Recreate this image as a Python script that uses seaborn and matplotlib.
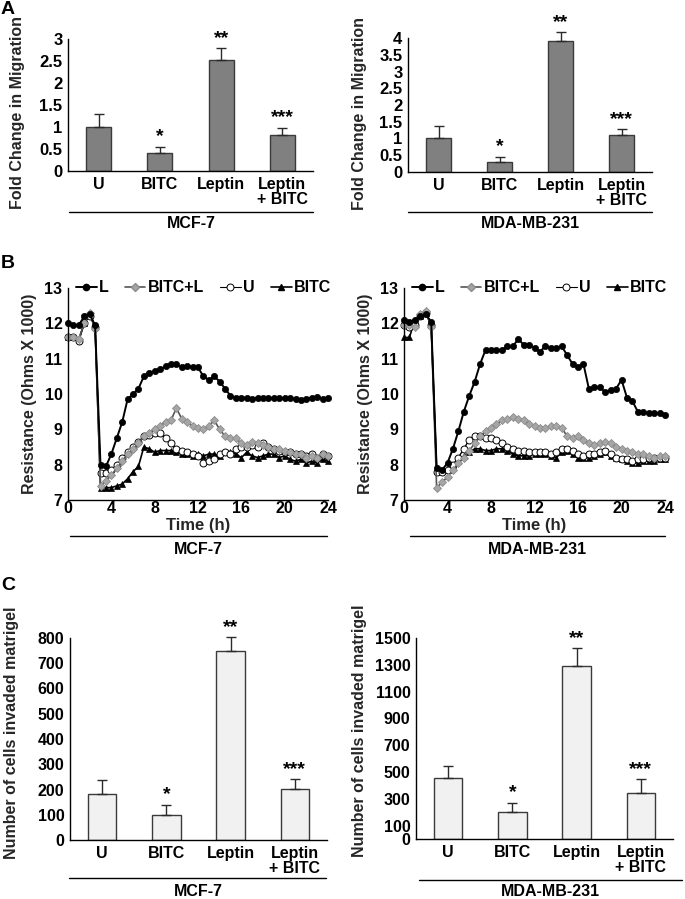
import numpy as np
import pandas as pd
import matplotlib
matplotlib.use('Agg')
import matplotlib.pyplot as plt
import seaborn as sns
from matplotlib.lines import Line2D

# ---------------- data ----------------
bar_cats = ["U", "BITC", "Leptin", "Leptin\n+ BITC"]

migr_mcf = [1.0, 0.42, 2.52, 0.81]
migr_mcf_err = [0.29, 0.13, 0.27, 0.17]
migr_mda = [1.02, 0.30, 3.91, 1.11]
migr_mda_err = [0.35, 0.16, 0.27, 0.16]
migr_mcf_stars = ["", "*", "**", "***"]
migr_mda_stars = ["", "*", "**", "***"]

inv_mcf = [182, 100, 750, 202]
inv_mcf_err = [55, 40, 54, 38]
inv_mda = [452, 200, 1290, 345]
inv_mda_err = [92, 72, 135, 100]

ticks_migr_mcf = [0, 0.5, 1, 1.5, 2, 2.5, 3]
ticklabels_migr_mcf = ["0", "0.5", "1", "1.5", "2", "2.5", "3"]
ticks_migr_mda = [0, 0.5, 1, 1.5, 2, 2.5, 3, 3.5, 4]
ticklabels_migr_mda = ["0", "0.5", "1", "1.5", "2", "2.5", "3", "3.5", "4"]
ticks_inv_mcf = [0, 100, 200, 300, 400, 500, 600, 700, 800]
ticks_inv_mda = [0, 100, 300, 500, 700, 900, 1100, 1300, 1500]

time_h = [0, 0.5, 1, 1.5, 2, 2.5, 3, 3.5, 4, 4.5, 5, 5.5, 6, 6.5, 7, 7.5, 8, 8.5,
          9, 9.5, 10, 10.5, 11, 11.5, 12, 12.5, 13, 13.5, 14, 14.5, 15, 15.5, 16,
          16.5, 17, 17.5, 18, 18.5, 19, 19.5, 20, 20.5, 21, 21.5, 22, 22.5, 23,
          23.5, 24]

L_mcf = [12.0, 11.95, 11.95, 12.2, 12.25, 11.95,
         8.0, 7.95, 8.3, 8.75, 9.2, 9.85, 10.0, 10.15,
         10.5, 10.6, 10.65, 10.7, 10.78, 10.85, 10.85, 10.75, 10.8, 10.75, 10.75,
         10.5, 10.4, 10.5, 10.35, 10.15, 9.95,
         9.88, 9.9, 9.9, 9.85, 9.9, 9.88, 9.88, 9.88, 9.88, 9.88, 9.88, 9.85, 9.82,
         9.85, 9.9, 9.92, 9.85, 9.88]
BL_mcf = [11.6, 11.6, 11.55, 12.0, 12.3, 11.85,
          7.4, 7.55, 7.7, 7.9, 8.1, 8.3, 8.45, 8.6,
          8.8, 8.9, 9.0, 9.1, 9.2, 9.25, 9.6, 9.3, 9.2, 9.1, 9.05,
          9.0, 9.1, 9.25, 9.0, 8.8, 8.75,
          8.75, 8.6, 8.55, 8.65, 8.6, 8.55, 8.5, 8.45, 8.45, 8.4, 8.35, 8.3, 8.3,
          8.2, 8.25, 8.2, 8.3, 8.25]
U_mcf = [11.6, 11.6, 11.5, 12.0, 12.2, 11.9,
         7.75, 7.75, 7.85, 8.0, 8.2, 8.35, 8.5, 8.65,
         8.8, 8.85, 8.9, 8.9, 8.75, 8.6, 8.45, 8.4, 8.35, 8.3, 8.25,
         8.05, 8.1, 8.15, 8.3, 8.35, 8.3,
         8.45, 8.5, 8.5, 8.55, 8.5, 8.6, 8.5, 8.45, 8.4, 8.35, 8.35, 8.3, 8.3,
         8.25, 8.3, 8.2, 8.3, 8.25]
B_mcf = [11.6, 11.6, 11.55, 12.0, 12.3, 11.9,
         7.35, 7.35, 7.35, 7.4, 7.45, 7.6, 7.8, 7.95,
         8.5, 8.45, 8.35, 8.4, 8.4, 8.4, 8.35, 8.3, 8.3, 8.25, 8.3,
         8.25, 8.3, 8.3, 8.25, 8.35, 8.35,
         8.3, 8.2, 8.35, 8.25, 8.2, 8.25, 8.3, 8.3, 8.2, 8.25, 8.15, 8.1, 8.15,
         8.05, 8.1, 8.05, 8.15, 8.1]

L_mda = [12.1, 12.05, 12.1, 12.2, 12.25, 12.05,
         7.9, 7.85, 8.05, 8.45, 8.95, 9.5, 9.95, 10.35,
         10.85, 11.25, 11.25, 11.25, 11.25, 11.35, 11.35, 11.55, 11.4, 11.4, 11.3,
         11.2, 11.35, 11.3, 11.3, 11.35, 11.1,
         10.85, 10.75, 10.85, 10.15, 10.2, 10.2, 10.05, 10.1, 10.15, 10.4, 9.9,
         9.8, 9.5, 9.5, 9.45, 9.45, 9.45, 9.4]
BL_mda = [11.95, 11.95, 11.9, 12.25, 12.35, 11.9,
          7.35, 7.5, 7.65, 7.85, 8.05, 8.2, 8.4, 8.6,
          8.8, 8.95, 9.05, 9.15, 9.25, 9.3, 9.35, 9.3, 9.25, 9.15, 9.1,
          9.05, 9.05, 9.1, 9.1, 9.05, 8.8,
          8.75, 8.8, 8.7, 8.6, 8.55, 8.6, 8.65, 8.6, 8.5, 8.45, 8.4, 8.35, 8.3,
          8.3, 8.25, 8.2, 8.25, 8.25]
U_mda = [11.95, 11.9, 11.95, 12.2, 12.3, 11.95,
         7.8, 7.8, 7.85, 8.0, 8.2, 8.45, 8.7, 8.8,
         8.8, 8.75, 8.75, 8.7, 8.6, 8.5, 8.45, 8.4, 8.4, 8.35, 8.35,
         8.35, 8.35, 8.3, 8.35, 8.45, 8.45,
         8.4, 8.3, 8.25, 8.3, 8.3, 8.35, 8.4, 8.3, 8.2, 8.15, 8.15, 8.1, 8.15,
         8.15, 8.2, 8.2, 8.2, 8.2]
B_mda = [11.6, 11.6, 12.1, 12.2, 12.3, 11.95,
         7.85, 7.85, 7.85, 7.95, 8.1, 8.25, 8.35, 8.45,
         8.45, 8.4, 8.4, 8.45, 8.45, 8.4, 8.3, 8.25, 8.25, 8.25, 8.3,
         8.3, 8.3, 8.25, 8.2, 8.35, 8.4,
         8.3, 8.2, 8.2, 8.2, 8.25, 8.3, 8.35, 8.25, 8.2, 8.15, 8.1, 8.05, 8.05,
         8.1, 8.1, 8.1, 8.15, 8.15]

series_names = ["L", "BITC+L", "U", "BITC"]

# ---------------- style ----------------
sns.set_theme(style="white")
plt.rcParams['font.family'] = ['Liberation Sans', 'DejaVu Sans']
plt.rcParams['font.weight'] = 'bold'
plt.rcParams['axes.labelweight'] = 'bold'
plt.rcParams['axes.edgecolor'] = 'black'
plt.rcParams['axes.linewidth'] = 1.0
plt.rcParams['xtick.color'] = 'black'
plt.rcParams['ytick.color'] = 'black'
plt.rcParams['text.color'] = 'black'

W, H = 685, 899
fig = plt.figure(figsize=(W / 100, H / 100), dpi=100)


def add_ax(x0, y0, x1, y1):
    return fig.add_axes([x0 / W, 1 - y1 / H, (x1 - x0) / W, (y1 - y0) / H])


def fig_line(x0, x1, y):
    fig.add_artist(Line2D([x0 / W, x1 / W], [1 - y / H, 1 - y / H],
                          color='black', lw=1.0))


def fig_text(x, y, s, size=11.5, ha='center'):
    fig.text(x / W, 1 - y / H, s, ha=ha, va='center', fontsize=size,
             fontweight='bold')


def bar_panel(ax, vals, errs, stars, face, ticks, ticklabels, ylim, ylabel,
              labx, laby, width, tick_fs, lab_fs):
    sns.barplot(x=bar_cats, y=vals, ax=ax, color=face, edgecolor='#3a3a3a',
                linewidth=1.0, width=width, saturation=1, errorbar=None)
    xs = np.arange(len(vals))
    ax.errorbar(xs, vals, yerr=[np.zeros(len(vals)), errs], fmt='none',
                ecolor='#2a2a2a', elinewidth=1.0, capsize=3.5, capthick=1.0,
                clip_on=False)
    for xi, v, e, s in zip(xs, vals, errs, stars):
        if s:
            ax.annotate(s, (xi, v + e), xytext=(0, 1),
                        textcoords='offset points', ha='center', va='bottom',
                        fontsize=14, fontweight='bold', annotation_clip=False)
    ax.set_xlim(-0.5, 3.5)
    ax.set_ylim(*ylim)
    ax.set_yticks(ticks)
    ax.set_yticklabels(ticklabels, fontsize=tick_fs, fontweight='bold')
    ax.set_xticks(xs)
    ax.set_xticklabels(bar_cats, fontsize=11.5, fontweight='bold',
                       linespacing=1.0)
    ax.set_xticks([-0.5, 0.5, 1.5, 2.5, 3.5], minor=True)
    ax.tick_params(axis='x', which='major', length=0, pad=4)
    ax.tick_params(axis='x', which='minor', length=4, width=1.0,
                   direction='out')
    ax.tick_params(axis='y', length=3, width=1.0, direction='out', pad=1)
    ax.set_xlabel('')
    ax.set_ylabel(ylabel, fontsize=lab_fs, fontweight='bold')
    ax.yaxis.set_label_coords(labx, laby)
    for sp in ['top', 'right']:
        ax.spines[sp].set_visible(False)
    ax.patch.set_alpha(0)


def line_panel(ax, Ls, BLs, Us, Bs, labx):
    kw = dict(ax=ax, clip_on=False, legend=False, errorbar=None)
    sns.lineplot(x=time_h, y=Bs, color='black', lw=1.2, marker='^',
                 markersize=4.5, markerfacecolor='black',
                 markeredgecolor='black', markeredgewidth=0.5, **kw)
    sns.lineplot(x=time_h, y=Us, color='black', lw=1.0, marker='o',
                 markersize=5, markerfacecolor='white',
                 markeredgecolor='black', markeredgewidth=0.7, **kw)
    sns.lineplot(x=time_h, y=BLs, color='#555555', lw=1.2, marker='D',
                 markersize=4.5, markerfacecolor='#a6a6a6',
                 markeredgecolor='#8a8a8a', markeredgewidth=0.6, **kw)
    sns.lineplot(x=time_h, y=Ls, color='black', lw=1.4, marker='o',
                 markersize=4.5, markerfacecolor='black',
                 markeredgecolor='black', markeredgewidth=0.5, **kw)
    ax.set_xlim(0, 24)
    ax.set_ylim(7, 13)
    ax.set_xticks([0, 4, 8, 12, 16, 20, 24])
    ax.set_xticks(time_h, minor=True)
    ax.set_yticks([7, 8, 9, 10, 11, 12, 13])
    ax.tick_params(axis='both', which='major', labelsize=11.5, length=3,
                   width=1.0, pad=1)
    ax.tick_params(axis='x', which='major', direction='in', length=3)
    ax.tick_params(axis='x', which='minor', direction='in', length=2,
                   width=0.8)
    for lab in ax.get_xticklabels() + ax.get_yticklabels():
        lab.set_fontweight('bold')
    ax.set_xlabel('Time (h)', fontsize=12, fontweight='bold')
    ax.xaxis.set_label_coords(0.5, -0.085)
    ax.set_ylabel('Resistance (Ohms X 1000)', fontsize=11.5,
                  fontweight='bold')
    ax.yaxis.set_label_coords(labx, 0.5)
    for sp in ['top', 'right']:
        ax.spines[sp].set_visible(False)
    handles = [
        Line2D([], [], color='black', lw=1.4, marker='o', ms=4.5,
               mfc='black', mec='black'),
        Line2D([], [], color='#555555', lw=1.2, marker='D', ms=4.5,
               mfc='#a6a6a6', mec='#8a8a8a'),
        Line2D([], [], color='black', lw=0.8, marker='o', ms=5,
               mfc='white', mec='black', mew=0.7),
        Line2D([], [], color='black', lw=1.2, marker='^', ms=5,
               mfc='black', mec='black'),
    ]
    ax.legend(handles, series_names, ncol=4, loc='center left',
              bbox_to_anchor=(0.03, 1.0), frameon=False,
              handlelength=1.3, handletextpad=0.15, columnspacing=1.0,
              borderaxespad=0, borderpad=0,
              prop={'weight': 'bold', 'size': 11.5})


# ---------------- Panel A ----------------
axA1 = add_ax(68, 39, 313, 171)
bar_panel(axA1, migr_mcf, migr_mcf_err, migr_mcf_stars, '#808080',
          ticks_migr_mcf, ticklabels_migr_mcf, (0, 3),
          'Fold Change in Migration', -0.175, 0.44, 0.41, 12, 11.5)
axA2 = add_ax(408, 38, 652, 172)
bar_panel(axA2, migr_mda, migr_mda_err, migr_mda_stars, '#808080',
          ticks_migr_mda, ticklabels_migr_mda, (0, 4),
          'Fold Change in Migration', -0.168, 0.44, 0.41, 12, 11.5)
fig_line(69, 313, 212)
fig_text(191, 224, 'MCF-7')
fig_line(408, 652, 212)
fig_text(530, 224, 'MDA-MB-231')

# ---------------- Panel B ----------------
axB1 = add_ax(68, 288, 328, 500)
line_panel(axB1, L_mcf, BL_mcf, U_mcf, B_mcf, -0.12)
axB2 = add_ax(404, 288, 665, 500)
line_panel(axB2, L_mda, BL_mda, U_mda, B_mda, -0.12)
fig_line(70, 327, 536)
fig_text(198, 549, 'MCF-7')
fig_line(410, 665, 536)
fig_text(537, 549, 'MDA-MB-231')

# ---------------- Panel C ----------------
axC1 = add_ax(70, 638, 327, 840)
bar_panel(axC1, inv_mcf, inv_mcf_err, ["", "*", "**", "***"], '#f1f1f1',
          ticks_inv_mcf, [str(v) for v in ticks_inv_mcf], (0, 800),
          'Number of cells invaded matrigel', -0.2, 0.53, 0.44, 11.5, 11.5)
axC2 = add_ax(416, 638, 673, 839)
bar_panel(axC2, inv_mda, inv_mda_err, ["", "*", "**", "***"], '#f1f1f1',
          ticks_inv_mda, [str(v) for v in ticks_inv_mda], (0, 1500),
          'Number of cells invaded matrigel', -0.19, 0.54, 0.44, 11.5, 11.5)
fig_line(69, 326, 878)
fig_text(198, 892, 'MCF-7')
fig_line(419, 682, 880)
fig_text(550, 892, 'MDA-MB-231')

# panel letters
fig_text(1, 10, 'A', size=14, ha='left')
fig_text(1, 264, 'B', size=14, ha='left')
fig_text(1, 586, 'C', size=14, ha='left')

fig.savefig('out.png', dpi=100)
